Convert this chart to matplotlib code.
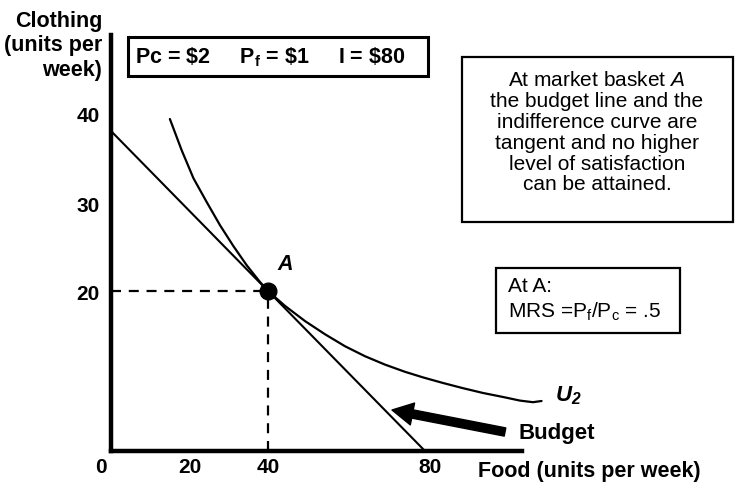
import matplotlib
matplotlib.use('Agg')
import matplotlib.pyplot as plt
from matplotlib.patches import Rectangle, FancyArrowPatch
from matplotlib.transforms import ScaledTranslation

plt.rcParams['font.family'] = ['Liberation Sans', 'DejaVu Sans']
plt.rcParams['mathtext.fontset'] = 'custom'
plt.rcParams['mathtext.rm'] = 'Liberation Sans'
plt.rcParams['mathtext.it'] = 'Liberation Sans:italic'
plt.rcParams['mathtext.bf'] = 'Liberation Sans:bold'
plt.rcParams['mathtext.bfit'] = 'Liberation Sans:italic:bold'

# ---------------- data ----------------
budget_food = [0, 80]
budget_clothing = [40, 0]
point_a_food = [40]
point_a_clothing = [20]
u2_food = [15.0, 18.0, 21.0, 24.4, 27.8, 31.2, 34.6, 38.0, 40.0, 44.3, 49.4, 54.5,
           59.6, 64.7, 69.8, 74.9, 79.5, 84.6, 89.7, 94.8, 99.9, 104.2, 107.5, 109.7]
u2_clothing = [41.5, 37.6, 34.1, 31.1, 28.2, 25.6, 23.2, 21.1, 20.0, 18.15, 16.25, 14.6,
               13.1, 11.85, 10.8, 9.9, 9.2, 8.5, 7.85, 7.25, 6.75, 6.3, 6.1, 6.25]
x_ticks = [0, 20, 40, 80]
x_tick_labels = ['0', '20', '40', '80']
y_ticks = [20, 30, 40]
y_tick_labels = ['20', '30', '40']

# ---------------- layout ----------------
W, H = 742, 497
fig = plt.figure(figsize=(W / 100, H / 100), dpi=100)


def fx(px):
    return px / W


def fy(py):
    return 1 - py / H


X0, Y0 = 111, 451      # axis origin (px)
XR, YT = 522, 35       # axis ends (px)
SX, SY = 3.925, 8.0    # px per unit
ax = fig.add_axes([fx(X0), fy(Y0), (XR - X0) / W, (Y0 - YT) / H])
ax.set_xlim(0, (XR - X0) / SX)
ax.set_ylim(0, (Y0 - YT) / SY)
ax.patch.set_alpha(0)
for s in ['top', 'right']:
    ax.spines[s].set_visible(False)
for s in ['left', 'bottom']:
    ax.spines[s].set_linewidth(3.2)
    ax.spines[s].set_capstyle('projecting')

ax.set_xticks(x_ticks)
ax.set_xticklabels(x_tick_labels, fontweight='bold', fontsize=15)
ax.set_yticks(y_ticks)
ax.set_yticklabels(y_tick_labels, fontweight='bold', fontsize=15)
ax.tick_params(length=0)
ax.tick_params(axis='x', pad=5)
ax.tick_params(axis='y', pad=8)

# small label nudges to follow the hand-drawn diagram
xl = ax.get_xticklabels()
xl[0].set_transform(xl[0].get_transform() + ScaledTranslation(-10 / 100, 0, fig.dpi_scale_trans))
xl[3].set_transform(xl[3].get_transform() + ScaledTranslation(5 / 100, 0, fig.dpi_scale_trans))
yl = ax.get_yticklabels()
yl[0].set_transform(yl[0].get_transform() + ScaledTranslation(0, -2 / 100, fig.dpi_scale_trans))
yl[1].set_transform(yl[1].get_transform() + ScaledTranslation(0, 6 / 100, fig.dpi_scale_trans))
yl[2].set_transform(yl[2].get_transform() + ScaledTranslation(0, 16 / 100, fig.dpi_scale_trans))

# lines
ax.plot(budget_food, budget_clothing, color='black', lw=1.5, clip_on=False)
ax.plot(u2_food, u2_clothing, color='black', lw=1.6, clip_on=False,
        solid_joinstyle='round', solid_capstyle='round')
ax.plot([0, point_a_food[0]], [point_a_clothing[0]] * 2, color='black', lw=1.6,
        dashes=(4.5, 3.5), clip_on=False)
ax.plot([point_a_food[0]] * 2, [0, point_a_clothing[0]], color='black', lw=1.6,
        dashes=(4.5, 3.5), clip_on=False)
ax.plot(point_a_food, point_a_clothing, 'o', color='black', ms=12, clip_on=False, zorder=5)

# texts
fig.text(fx(102), fy(46), 'Clothing\n(units per\nweek)', ha='right', va='center',
         fontsize=15.5, fontweight='bold', linespacing=1.2)
fig.text(fx(478), fy(471), 'Food (units per week)', ha='left', va='center',
         fontsize=15.5, fontweight='bold')
fig.text(fx(285), fy(265), 'A', ha='center', va='center', fontsize=15.5,
         fontweight='bold', style='italic')
fig.text(fx(555), fy(396), r'$\mathbfit{U}_{\mathbfit{2}}$', ha='left', va='center',
         fontsize=16)
fig.text(fx(519), fy(433), 'Budget', ha='left', va='center', fontsize=16,
         fontweight='bold')

# boxes
fig.add_artist(Rectangle((fx(128), fy(76)), fx(428) - fx(128), fy(37) - fy(76),
                         transform=fig.transFigure, fill=False, lw=2.2, ec='black'))
fig.text(fx(135), fy(57),
         r'Pc = \$2     P$_\mathbf{f}$ = \$1     I = \$80',
         ha='left', va='center', fontsize=15.5, fontweight='bold')

fig.add_artist(Rectangle((fx(462), fy(222)), fx(733) - fx(462), fy(57) - fy(222),
                         transform=fig.transFigure, fill=False, lw=1.6, ec='black'))
fig.text(fx(597), fy(133),
         'At market basket $\\mathit{A}$\nthe budget line and the\nindifference curve are\n'
         'tangent and no higher\nlevel of satisfaction\ncan be attained.',
         ha='center', va='center', fontsize=15, linespacing=1.12)

fig.add_artist(Rectangle((fx(496), fy(333)), fx(680) - fx(496), fy(268) - fy(333),
                         transform=fig.transFigure, fill=False, lw=1.6, ec='black'))
fig.text(fx(508), fy(287), 'At A:', ha='left', va='center', fontsize=15)
fig.text(fx(508), fy(312), r'MRS =P$_\mathrm{f}$/P$_\mathrm{c}$ = .5', ha='left',
         va='center', fontsize=15)

# arrow pointing to budget line
fig.add_artist(FancyArrowPatch(posA=(fx(505), fy(432)), posB=(fx(392), fy(410)),
                               transform=fig.transFigure,
                               arrowstyle='simple,head_length=1.5,head_width=1.6,tail_width=0.6',
                               mutation_scale=10, color='black', shrinkA=0, shrinkB=0))

fig.savefig('out.png', dpi=100)
